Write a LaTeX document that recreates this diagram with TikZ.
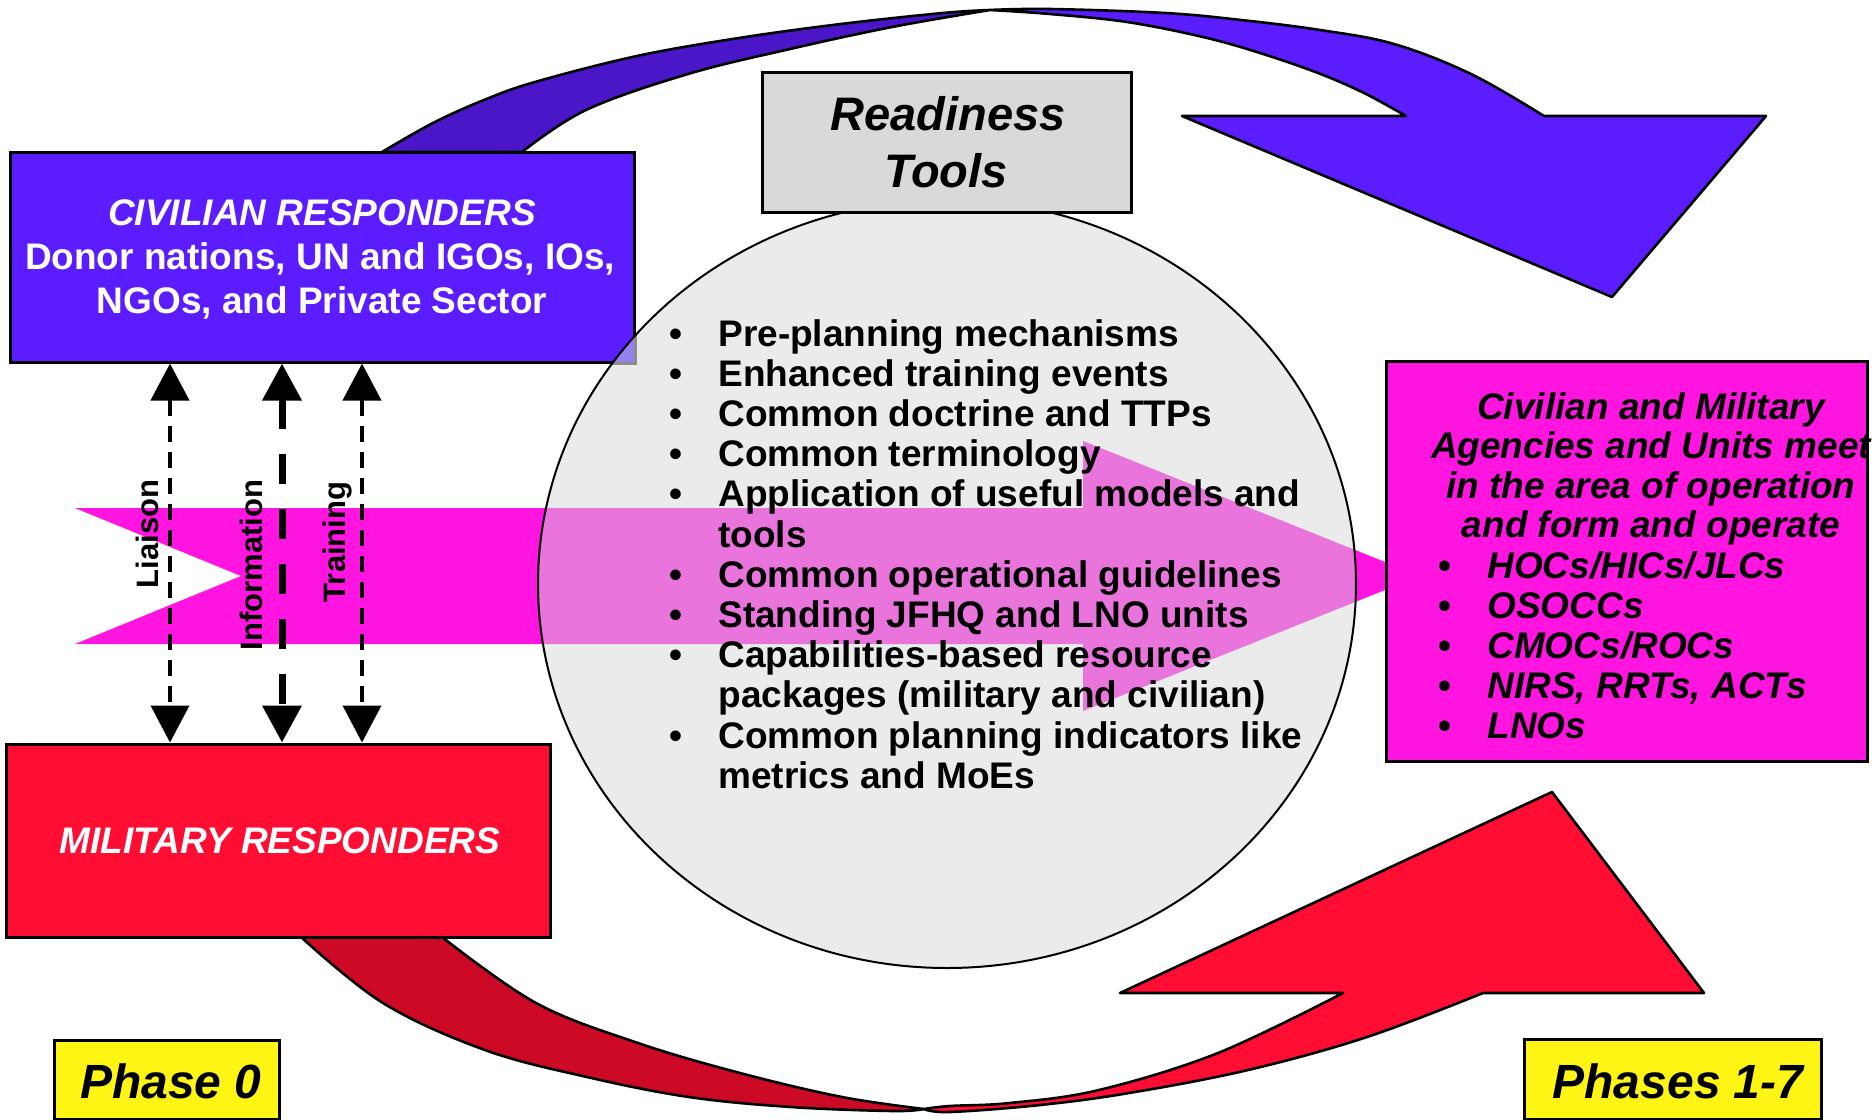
\documentclass[tikz,border=0pt]{standalone}
\usepackage{fontspec}
\setmainfont{Liberation Sans}
\usetikzlibrary{arrows.meta,shapes.geometric}
\definecolor{civblue}{RGB}{91,28,255}
\definecolor{civback}{RGB}{74,22,200}
\definecolor{milred}{RGB}{255,13,51}
\definecolor{milback}{RGB}{204,10,38}
\definecolor{mag}{RGB}{255,20,224}
\definecolor{magmix}{RGB}{233,116,219}
\definecolor{ellgray}{RGB}{235,235,235}
\definecolor{rtgray}{RGB}{217,217,217}
\definecolor{phaseyellow}{RGB}{255,245,20}
\definecolor{civmix}{RGB}{150,128,240}
\begin{document}
\begin{tikzpicture}[x=0.5pt, y=-0.5pt,
  boxline/.style={draw=black, line width=1.5pt, inner sep=0pt},
  band/.style={draw=black, line width=1.3pt, line join=round},
  txt/.style={inner sep=0pt, anchor=base, font=\fontsize{18.5}{20}\selectfont\bfseries},
  itxt/.style={inner sep=0pt, anchor=base, font=\fontsize{18.5}{20}\selectfont\bfseries\itshape},
  wtxt/.style={itxt, text=white},
  bigtxt/.style={inner sep=0pt, anchor=base, font=\fontsize{23.5}{28}\selectfont\bfseries\itshape},
  phasetxt/.style={inner sep=0pt, anchor=base, font=\fontsize{24}{28}\selectfont\bfseries\itshape},
  lbl/.style={inner sep=0pt, anchor=base, rotate=90, font=\fontsize{15.5}{18}\selectfont\bfseries},
  thinlink/.style={line width=2pt, dash pattern=on 8pt off 5pt, >={Triangle[width=19pt,length=18.5pt]}, <->},
  thicklink/.style={line width=3.5pt, dash pattern=on 15pt off 12.5pt, >={Triangle[width=19pt,length=18.5pt]}, <->}
]
\useasboundingbox (0,0) rectangle (1876,1120);
\fill[white] (0,0) rectangle (1876,1120);

% ---- blue curved arrow (top)
\filldraw[band, fill=civback] plot[smooth, tension=0.6] coordinates {(382,152) (433,123) (484,100) (535,82) (637,56) (739,38) (841,24) (943,13) (990,10)}
  -- plot[smooth, tension=0.6] coordinates {(990,10) (892,27) (790,49) (688,74) (586,110) (522,152)} -- cycle;
\filldraw[band, fill=civblue] plot[smooth, tension=0.6] coordinates {(990,10) (1050,9) (1165,13) (1241,20) (1320,30) (1394,44) (1471,74) (1544,116)}
  -- (1766,116) -- (1612,297) -- (1182,116) -- (1406,116)
  -- plot[smooth, tension=0.6] coordinates {(1406,116) (1364,93) (1318,73) (1260,53) (1203,37) (1127,22) (1050,14) (990,10)} -- cycle;

% ---- red curved arrow (bottom)
\filldraw[band, fill=milback] plot[smooth, tension=0.6] coordinates {(301,937) (383,1003) (485,1050) (587,1077) (689,1097) (791,1107) (893,1111) (924,1109)}
  -- plot[smooth, tension=0.6] coordinates {(924,1109) (842,1097) (740,1073) (638,1043) (536,1003) (442,937)} -- cycle;
\filldraw[band, fill=milred] plot[smooth, tension=0.6] coordinates {(924,1109) (950,1112) (1040,1105) (1129,1093) (1248,1070) (1367,1037) (1483,993)}
  -- (1704,993) -- (1552,792) -- (1120,993) -- (1343,993)
  -- plot[smooth, tension=0.6] coordinates {(1343,993) (1218,1053) (1099,1090) (1010,1103) (950,1106) (924,1109)} -- cycle;

% ---- responder boxes
\node[boxline, fill=civblue, minimum width=312pt, minimum height=105pt] (civ) at (322,257) {};
\node[boxline, fill=milred, minimum width=272pt, minimum height=96.5pt] (mil) at (278,840.5) {};

% ---- horizontal magenta arrow
\fill[mag] (75,508) -- (1083,508) -- (1083,441) -- (1420,576) -- (1083,711) -- (1083,644) -- (75,644) -- (241,576) -- cycle;

% ---- central ellipse
\node[ellipse, fill=ellgray, minimum width=409pt, minimum height=384pt, inner sep=0pt] (ell) at (947,584) {};
\begin{scope}
  \clip (947,584) ellipse [x radius=409, y radius=384];
  \fill[magmix] (75,508) -- (1083,508) -- (1083,441) -- (1420,576) -- (1083,711) -- (1083,644) -- (75,644) -- (241,576) -- cycle;
  \fill[civmix] (civ.south west) rectangle (civ.north east);
  \draw[line width=1.5pt, black!45] (civ.north east) -- (civ.south east) -- (civ.south west);
\end{scope}
\draw[line width=1pt] (ell.center) ellipse [x radius=409, y radius=384];

% ---- other boxes
\node[boxline, fill=rtgray, minimum width=184.5pt, minimum height=70pt] (rt) at (946.5,142) {};
\node[boxline, fill=mag, minimum width=240.5pt, minimum height=200pt] (meet) at (1626.5,561) {};
\node[boxline, fill=phaseyellow, minimum width=112.5pt, minimum height=39.5pt] (ph0) at (166.5,1079.5) {};
\node[boxline, fill=phaseyellow, minimum width=148.5pt, minimum height=40pt] (ph17) at (1673,1079) {};

% ---- texts
\node[wtxt] (civt1) at (322,225) {CIVILIAN RESPONDERS};
\node[txt, text=white] (civt2) at (320,269) {Donor nations, UN and IGOs, IOs,};
\node[txt, text=white] (civt3) at (322,313) {NGOs, and Private Sector};
\node[wtxt] (milt) at (280,853) {MILITARY RESPONDERS};
\node[bigtxt] (rt1) at (948,130) {Readiness};
\node[bigtxt] (rt2) at (946,187) {Tools};
\node[phasetxt] (ph0t) at (171,1098) {Phase 0};
\node[phasetxt] (ph17t) at (1678,1098) {Phases 1-7};

\foreach \k/\b/\t in {0/1/Pre-planning mechanisms, 1/1/Enhanced training events, 2/1/Common doctrine and TTPs,
  3/1/Common terminology, 4/1/Application of useful models and, 5/0/tools, 6/1/Common operational guidelines,
  7/1/Standing JFHQ and LNO units, 8/1/Capabilities-based resource, 9/0/packages (military and civilian),
  10/1/Common planning indicators like, 11/0/metrics and MoEs}{
  \node[txt, anchor=base west] (rtl\k) at (718,{346+\k*40.2}) {\t};
  \ifnum\b=1 \node[txt] (rtb\k) at (676,{346+\k*40.2}) {•}; \fi
}

\node[itxt] (m1) at (1651,419) {Civilian and Military};
\node[itxt] (m2) at (1651,458) {Agencies and Units meet};
\node[itxt] (m3) at (1651,498) {in the area of operation};
\node[itxt] (m4) at (1651,537) {and form and operate};
\foreach \k/\t in {0/{HOCs/HICs/JLCs}, 1/{OSOCCs}, 2/{CMOCs/ROCs}, 3/{NIRS, RRTs, ACTs}, 4/{LNOs}}{
  \node[itxt, anchor=base west] (ml\k) at (1487,{578+\k*40}) {\t};
  \node[txt] (mb\k) at (1445,{578+\k*40}) {•};
}

% ---- dashed two-way links
\coordinate (xl) at (170,0);
\coordinate (xi) at (282,0);
\coordinate (xt) at (362,0);
\draw[thinlink] (civ.south -| xl) -- (mil.north -| xl);
\draw[thicklink] (civ.south -| xi) -- (mil.north -| xi);
\draw[thinlink] (civ.south -| xt) -- (mil.north -| xt);
\node[lbl] (lliaison) at (158,534) {Liaison};
\node[lbl] (linfo) at (262,565) {Information};
\node[lbl] (ltrain) at (345,542) {Training};
\end{tikzpicture}
\end{document}
